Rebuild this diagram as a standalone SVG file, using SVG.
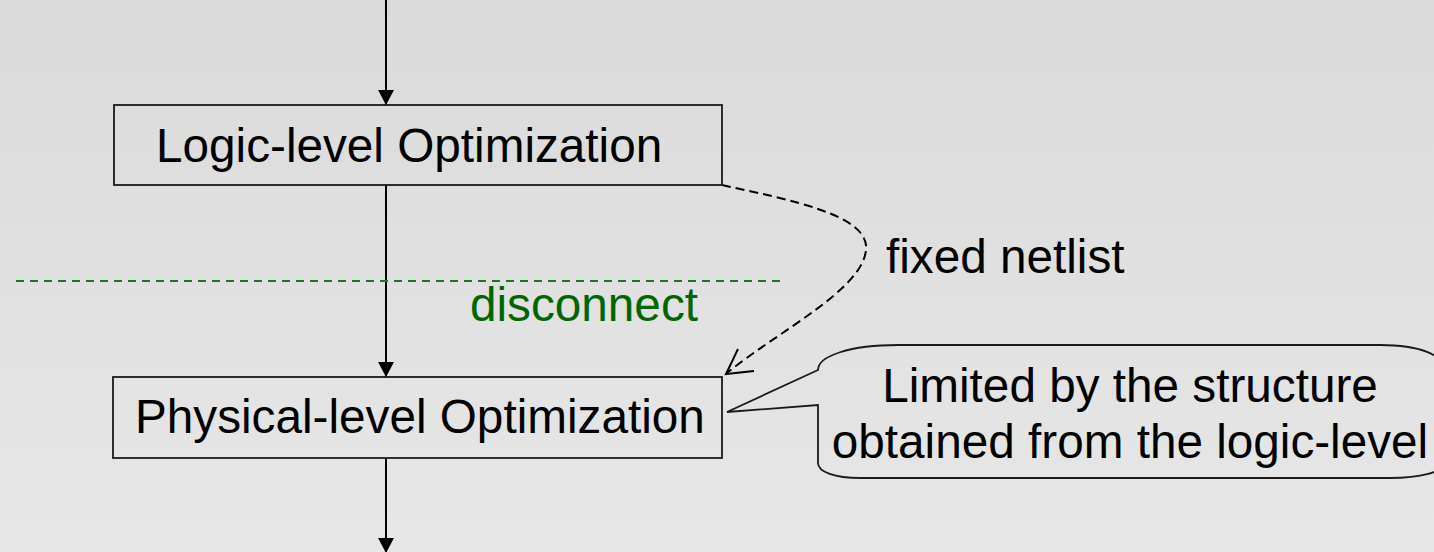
<svg xmlns="http://www.w3.org/2000/svg" width="1434" height="552" viewBox="0 0 1434 552">
  <style>
    .box { fill: none; stroke: #1a1a1a; stroke-width: 1.8; }
    .lbl { font-family: "Liberation Sans", Arial, sans-serif; font-size: 47.7px; fill: #000; }
    .flow { stroke: #000; stroke-width: 2; fill: none; }
    .green { fill: #006600; }
  </style>
  <defs>
    <linearGradient id="bg" x1="0" y1="0" x2="0" y2="1">
      <stop offset="0" stop-color="#dadada"/>
      <stop offset="1" stop-color="#e7e7e7"/>
    </linearGradient>
    <marker id="arrow" viewBox="0 0 15 16" refX="15" refY="8" markerWidth="15" markerHeight="16" markerUnits="userSpaceOnUse" orient="auto">
      <path d="M0,0 L15,8 L0,16 z" fill="#000"/>
    </marker>
  </defs>
  <rect x="0" y="0" width="1434" height="552" fill="url(#bg)"/>

  <g id="connectors">
    <line class="flow" x1="386" y1="0" x2="386" y2="105" marker-end="url(#arrow)"/>
    <line class="flow" x1="386" y1="185" x2="386" y2="377" marker-end="url(#arrow)"/>
    <line class="flow" x1="386" y1="458" x2="386" y2="553" marker-end="url(#arrow)"/>
    <path d="M722,185 C790,200 870,215 866,250 C862,290 780,330 727,373" fill="none" stroke="#000" stroke-width="2" stroke-dasharray="9,5"/>
    <path d="M738,349 L726,374 L754,371" fill="none" stroke="#000" stroke-width="2"/>
    <line x1="16" y1="281" x2="781" y2="281" stroke="#1a7a1a" stroke-width="2" stroke-dasharray="8,6"/>
  </g>

  <g id="logic">
    <rect class="box" x="114" y="105" width="608" height="80"/>
    <text class="lbl" x="156" y="162">Logic-level Optimization</text>
  </g>

  <g id="physical">
    <rect class="box" x="113" y="377" width="609" height="81"/>
    <text class="lbl" x="135" y="433">Physical-level Optimization</text>
  </g>

  <g id="fixed-netlist">
    <text class="lbl" x="886" y="273">fixed netlist</text>
  </g>

  <g id="disconnect">
    <text class="lbl green" x="470" y="321">disconnect</text>
  </g>

  <g id="callout">
    <path class="box" d="M727,412 L818,370 C818,356 850,345 898,345 L1380,345 C1420,345 1444,355 1444,370 L1444,463 C1444,472 1420,478 1390,478 L860,478 C835,478 818,472 818,463 L818,405 Z"/>
    <text class="lbl" x="1130" y="402" text-anchor="middle">Limited by the structure</text>
    <text class="lbl" x="1130" y="458" text-anchor="middle">obtained from the logic-level</text>
  </g>
</svg>
